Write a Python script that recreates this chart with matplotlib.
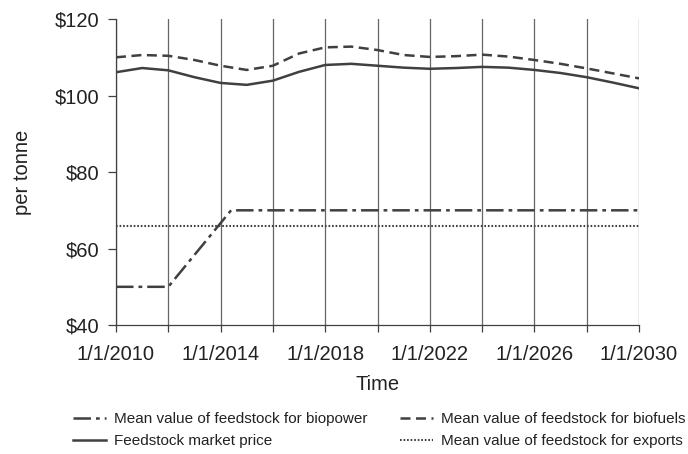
import matplotlib.pyplot as plt

plt.rcParams['font.family'] = ['Liberation Sans', 'DejaVu Sans']

# data
years = [2010, 2011, 2012, 2013, 2014, 2015, 2016, 2017, 2018, 2019, 2020,
         2021, 2022, 2023, 2024, 2025, 2026, 2027, 2028, 2029, 2030]
market_price = [106.1, 107.2, 106.6, 104.8, 103.3, 102.8, 103.9, 106.2, 108.0, 108.3, 107.8,
                107.3, 107.0, 107.2, 107.5, 107.3, 106.7, 105.9, 104.8, 103.4, 101.9]
biofuels = [110.0, 110.6, 110.4, 109.3, 107.8, 106.7, 107.8, 111.0, 112.6, 112.8, 111.9,
            110.6, 110.1, 110.3, 110.7, 110.2, 109.3, 108.3, 107.1, 105.8, 104.5]
biopower_x = [2010, 2012, 2014.4, 2030]
biopower = [50, 50, 70, 70]
exports_x = [2010, 2030]
exports = [66, 66]

tick_years = [2010, 2014, 2018, 2022, 2026, 2030]
tick_labels = ["1/1/2010", "1/1/2014", "1/1/2018", "1/1/2022", "1/1/2026", "1/1/2030"]
minor_years = [2012, 2016, 2020, 2024, 2028]
y_ticks = [40, 60, 80, 100, 120]
y_labels = ["$40", "$60", "$80", "$100", "$120"]

col = "#404040"
fig = plt.figure(figsize=(6.88, 4.54), dpi=100)
ax = fig.add_axes([0.1686, 0.284, 0.7602, 0.674])

#the four series
l1, = ax.plot(biopower_x, biopower, color=col, lw=1.8, dashes=(7, 2, 1.5, 2),
              label="Mean value of feedstock for biopower")
l2, = ax.plot(years, market_price, color=col, lw=1.8, label="Feedstock market price")
l3, = ax.plot(years, biofuels, color=col, lw=1.8, dashes=(4, 2.2),
              label="Mean value of feedstock for biofuels")
l4, = ax.plot(exports_x, exports, color=col, lw=1.5, dashes=(0.8, 0.9),
              label="Mean value of feedstock for exports")

ax.set_xlim(2010, 2030)
ax.set_ylim(40, 120)
ax.set_xticks(tick_years)
ax.set_xticklabels(tick_labels, fontsize=14.5, color="#222222")
ax.set_xticks(minor_years, minor=True)
ax.set_yticks(y_ticks)
ax.set_yticklabels(y_labels, fontsize=14.5, color="#222222")
ax.tick_params(axis='x', which='both', direction='out', length=5, color=col, width=0.9, pad=9)
ax.tick_params(axis='y', direction='out', length=6, color=col, width=0.9, pad=6)
for x in tick_years + minor_years:
    ax.axvline(x, color="#666666", lw=0.9, zorder=0)
for s in ['top', 'right']:
    ax.spines[s].set_visible(False)
for s in ['left', 'bottom']:
    ax.spines[s].set_color(col)
    ax.spines[s].set_linewidth(0.9)

ax.set_xlabel("Time", fontsize=14.5, color="#222222", labelpad=8)
ax.set_ylabel("per tonne", fontsize=14.5, color="#222222", labelpad=16)

#legend in two columns under the plot
leg1 = fig.legend(handles=[l1, l2], loc='upper left', bbox_to_anchor=(0.106, 0.092),
                  frameon=False, fontsize=11.0, handlelength=2.15, handletextpad=0.57,
                  labelspacing=0.5, borderpad=0, borderaxespad=0)
leg2 = fig.legend(handles=[l3, l4], loc='upper left', bbox_to_anchor=(0.581, 0.092),
                  frameon=False, fontsize=11.0, handlelength=2.15, handletextpad=0.57,
                  labelspacing=0.5, borderpad=0, borderaxespad=0)
for leg in (leg1, leg2):
    for t in leg.get_texts():
        t.set_color("#222222")

fig.savefig("out.png", dpi=100)
